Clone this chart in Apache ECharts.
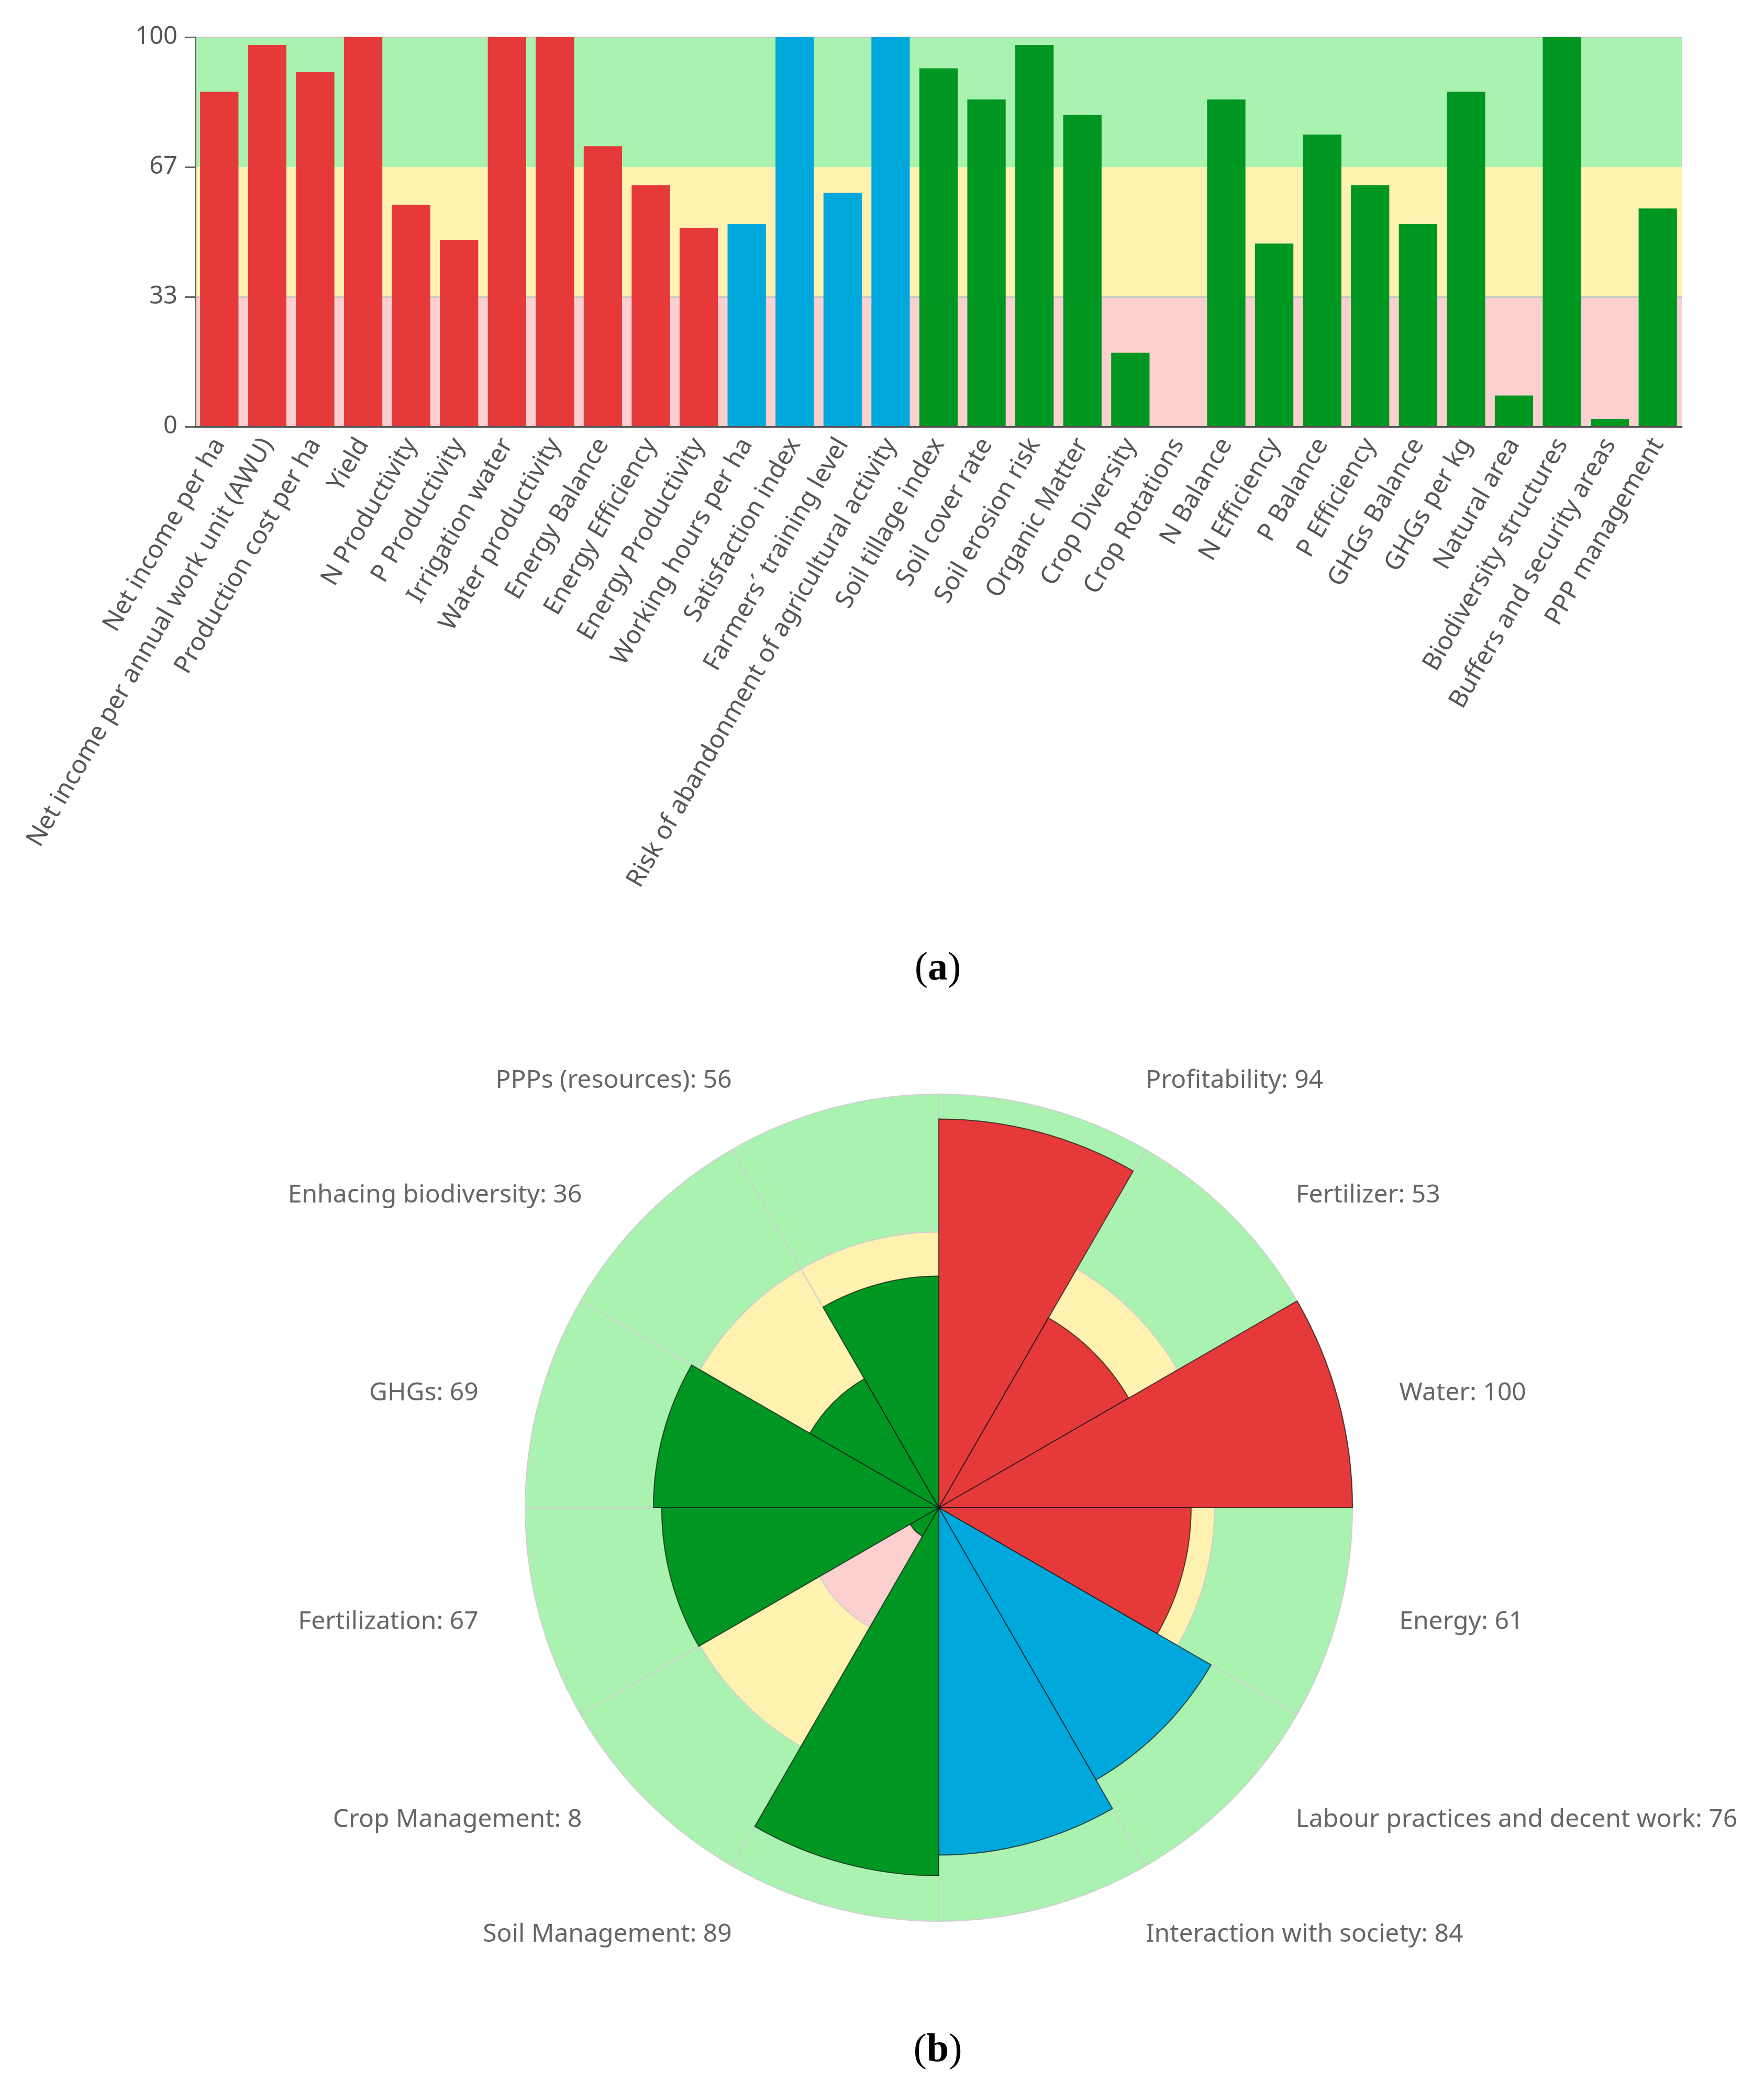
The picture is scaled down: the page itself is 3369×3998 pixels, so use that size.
<!DOCTYPE html>
<html>
<head>
<meta charset="utf-8">
<title>Indicators and criteria</title>
<script src="https://cdn.jsdelivr.net/npm/echarts@6/dist/echarts.min.js"></script>
<style>
html, body { margin: 0; padding: 0; background: #fff; }
#chart { width: 3369px; height: 3998px; }
</style>
</head>
<body>
<div id="chart"></div>
<script>
// (a) indicadores
var indicatorNames = [
	'Net income per ha', 'Net income per annual work unit (AWU)', 'Production cost per ha', 'Yield',
	'N Productivity', 'P Productivity', 'Irrigation water', 'Water productivity', 'Energy Balance',
	'Energy Efficiency', 'Energy Productivity', 'Working hours per ha', 'Satisfaction index',
	'Farmers\u00b4 training level', 'Risk of abandonment of agricultural activity', 'Soil tillage index',
	'Soil cover rate', 'Soil erosion risk', 'Organic Matter', 'Crop Diversity', 'Crop Rotations',
	'N Balance', 'N Efficiency', 'P Balance', 'P Efficiency', 'GHGs Balance', 'GHGs per kg',
	'Natural area', 'Biodiversity structures', 'Buffers and security areas', 'PPP management'
];
var indicatorValues = [86, 98, 91, 100, 57, 48, 100, 100, 72, 62, 51, 52, 100, 60, 100,
	92, 84, 98, 80, 19, 0, 84, 47, 75, 62, 52, 86, 8, 100, 2, 56];
var indicatorGroups = [
	'eco', 'eco', 'eco', 'eco', 'eco', 'eco', 'eco', 'eco', 'eco', 'eco', 'eco',
	'soc', 'soc', 'soc', 'soc',
	'env', 'env', 'env', 'env', 'env', 'env', 'env', 'env', 'env', 'env', 'env', 'env', 'env', 'env', 'env', 'env'
];

// (b) criterios
var criteriaNames = ['Profitability', 'Fertilizer', 'Water', 'Energy', 'Labour practices and decent work',
	'Interaction with society', 'Soil Management', 'Crop Management', 'Fertilization', 'GHGs',
	'Enhacing biodiversity', 'PPPs (resources)'];
var criteriaValues = [94, 53, 100, 61, 76, 84, 89, 8, 67, 69, 36, 56];
var criteriaGroups = ['eco', 'eco', 'eco', 'eco', 'soc', 'soc', 'env', 'env', 'env', 'env', 'env', 'env'];

// bandas de fondo y ticks
var bandLimits = [0, 100 / 3, 200 / 3, 100];
var yTickLabels = ['0', '33', '67', '100'];

// estilos
var groupColors = { eco: '#e5393a', soc: '#00a8dc', env: '#009622' };
var bandColors = ['#fdd0d0', '#fff2b0', '#aaf2b0'];
var FONT = 'Noto Sans';
var CX = 1793, CY = 2880, R = 790;   // rosa (b)
var LABEL_R = 906;                  // radio donde empieza el texto

var myChart = echarts.init(document.getElementById('chart'));

// bandas como markArea
var bandAreas = [];
for (var i = 0; i < bandColors.length; i++) {
	bandAreas.push([
		{ yAxis: bandLimits[i], itemStyle: { color: bandColors[i] } },
		{ yAxis: bandLimits[i + 1] }
	]);
}

// fondo de la rosa: un anillo por banda
var ringSeries = [];
for (var b = 0; b < bandColors.length; b++) {
	var ringData = [];
	for (var k = 0; k < criteriaNames.length; k++) {
		ringData.push(bandLimits[b + 1] - bandLimits[b]);
	}
	ringSeries.push({
		type: 'bar',
		coordinateSystem: 'polar',
		stack: 'bg',
		silent: true,
		z: 1,
		barCategoryGap: 0,
		itemStyle: { color: bandColors[b], borderColor: '#cfcfcf', borderWidth: 2 },
		data: ringData
	});
}

// rotulo (a) / (b)
function panelTitle(letter, top) {
	return {
		text: '{p|(}{b|' + letter + '}{p|)}', left: 1786, top: top, textAlign: 'center',
		textStyle: { rich: {
			p: { fontFamily: 'Liberation Serif', fontSize: 76, fontWeight: 'normal', color: '#000' },
			b: { fontFamily: 'Liberation Serif', fontSize: 76, fontWeight: 'bold', color: '#000' }
		} }
	};
}

var option = {
	animation: false,
	title: [panelTitle('a', 1808), panelTitle('b', 3874)],
	grid: { left: 373, top: 71, width: 2839, height: 744 },
	xAxis: {
		type: 'category',
		data: indicatorNames,
		z: 3,
		axisLine: { lineStyle: { color: '#555', width: 3 } },
		axisTick: { length: 18, lineStyle: { color: '#555', width: 3 } },
		axisLabel: { interval: 0, rotate: 60, margin: 26, fontSize: 48, color: '#555', fontFamily: FONT }
	},
	yAxis: {
		type: 'value',
		min: 0,
		max: 100,
		interval: 100 / 3,
		z: 3,
		axisLine: { show: true, lineStyle: { color: '#666', width: 3 } },
		axisTick: { show: true, length: 20, lineStyle: { color: '#666', width: 3 } },
		splitLine: { show: false },
		axisLabel: {
			margin: 34, fontSize: 47, color: '#555', fontFamily: FONT,
			formatter: function (v) { return yTickLabels[Math.round(v / (100 / 3))]; }
		}
	},
	polar: { center: [CX, CY], radius: R },
	angleAxis: {
		type: 'category',
		data: criteriaNames,
		startAngle: 90,
		clockwise: true,
		axisLine: { show: false },
		axisTick: { show: false },
		axisLabel: { show: false },
		splitLine: { show: false }
	},
	radiusAxis: {
		min: 0,
		max: 100,
		axisLine: { show: false },
		axisTick: { show: false },
		axisLabel: { show: false },
		splitLine: { show: false }
	},
	series: ringSeries.concat([
		{
			name: 'indicadores',
			type: 'bar',
			xAxisIndex: 0,
			yAxisIndex: 0,
			barCategoryGap: '20%',
			z: 2,
			data: indicatorValues.map(function (v, i) {
				return { value: v, itemStyle: { color: groupColors[indicatorGroups[i]] } };
			}),
			markArea: { silent: true, z: 0, itemStyle: { opacity: 1 }, data: bandAreas },
			markLine: {
				silent: true, z: 1, symbol: 'none', label: { show: false },
				lineStyle: { color: '#c8c8c8', width: 3, type: 'solid' },
				data: [{ yAxis: bandLimits[1] }, { yAxis: bandLimits[3] }]
			}
		},
		{
			name: 'criterios',
			type: 'bar',
			coordinateSystem: 'polar',
			barGap: '-100%',
			barCategoryGap: 0,
			z: 2,
			silent: true,
			data: criteriaValues.map(function (v, i) {
				return { value: v, itemStyle: { color: groupColors[criteriaGroups[i]], borderColor: 'rgba(20,20,20,0.7)', borderWidth: 2 } };
			})
		},
		{
			// solo etiquetas alrededor de la rosa
			name: 'etiquetas',
			type: 'pie',
			center: [CX, CY],
			radius: [0, R],
			startAngle: 90,
			clockwise: true,
			silent: true,
			z: 4,
			itemStyle: { color: 'rgba(0,0,0,0)', borderWidth: 0 },
			label: {
				show: true, position: 'outer', fontSize: 48, color: '#666', fontFamily: FONT,
				formatter: function (p) { return criteriaNames[p.dataIndex] + ': ' + criteriaValues[p.dataIndex]; }
			},
			labelLine: { show: false, length: 54, length2: 62 },
			labelLayout: function (params) {
				var r = params.labelRect;
				var ly = r.y + r.height / 2;
				var dy = ly - CY;
				var dir = (r.x + r.width / 2) > CX ? 1 : -1;
				var dx = Math.sqrt(Math.max(LABEL_R * LABEL_R - dy * dy, 0));
				return { x: CX + dir * dx, y: ly, align: dir > 0 ? 'left' : 'right', verticalAlign: 'middle' };
			},
			data: criteriaNames.map(function (n) { return { name: n, value: 1 }; })
		}
	])
};
myChart.setOption(option);
</script>
</body>
</html>
